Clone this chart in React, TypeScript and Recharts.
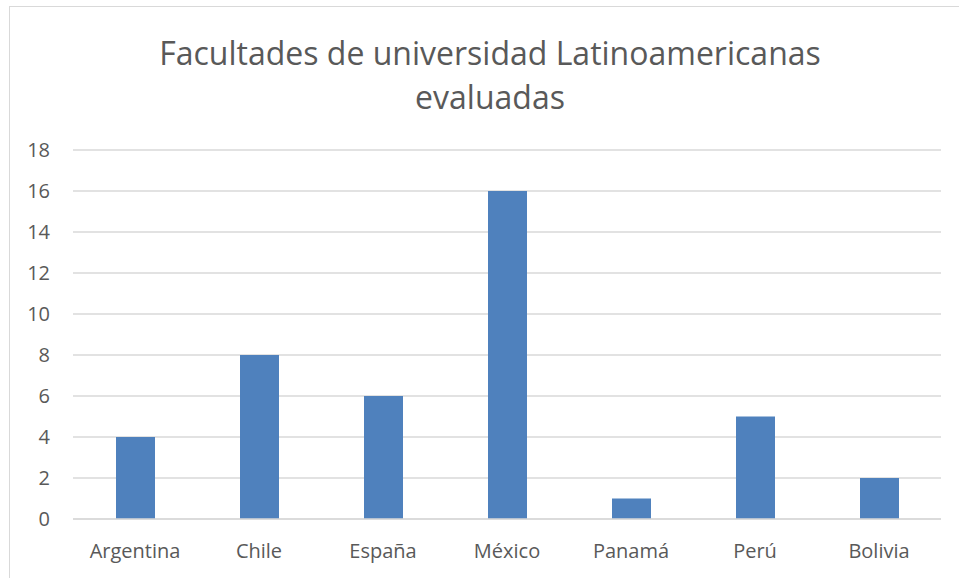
import * as React from "react";
import { BarChart, Bar, CartesianGrid, XAxis, YAxis } from "recharts";

const paises = ["Argentina", "Chile", "España", "México", "Panamá", "Perú", "Bolivia"];
const facultades = [4, 8, 6, 16, 1, 5, 2];
const yTicks = [0, 2, 4, 6, 8, 10, 12, 14, 16, 18];
const tituloLineas = ["Facultades de universidad Latinoamericanas", "evaluadas"];

const chartData = paises.map((pais, i) => ({ pais, valor: facultades[i] }));

const font = "'Open Sans', sans-serif";

export default function App() {
  return (
    <div
      style={{
        position: "absolute",
        left: 0,
        top: 0,
        width: 959,
        height: 578,
        overflow: "hidden",
        background: "#fff",
      }}
    >
      <div
        style={{
          position: "absolute",
          left: 9,
          top: 6,
          width: 1200,
          height: 1200,
          border: "1.5px solid #d9d9d9",
        }}
      />
      <div style={{ position: "absolute", left: 0, top: 0 }}>
        <BarChart
          width={959}
          height={578}
          data={chartData}
          margin={{ top: 150, right: 18, bottom: 29, left: 0 }}
        >
          <text
            x={490}
            y={65}
            textAnchor="middle"
            fontFamily={font}
            fontSize={32}
            fill="#595959"
          >
            {tituloLineas[0]}
          </text>
          <text
            x={490}
            y={109}
            textAnchor="middle"
            fontFamily={font}
            fontSize={32}
            fill="#595959"
          >
            {tituloLineas[1]}
          </text>
          <CartesianGrid vertical={false} stroke="#d9d9d9" strokeWidth={1.5} />
          <XAxis
            dataKey="pais"
            axisLine={{ stroke: "#d9d9d9", strokeWidth: 1.5 }}
            tickLine={false}
            tickSize={0}
            tickMargin={25}
            tick={{ fill: "#595959", fontSize: 20, fontFamily: font }}
          />
          <YAxis
            width={73}
            domain={[0, 18]}
            ticks={yTicks}
            axisLine={false}
            tickLine={false}
            tickSize={0}
            tickMargin={23}
            tick={{ fill: "#595959", fontSize: 20, fontFamily: font }}
          />
          <Bar dataKey="valor" fill="#4f81bd" barSize={39} isAnimationActive={false} />
        </BarChart>
      </div>
    </div>
  );
}
